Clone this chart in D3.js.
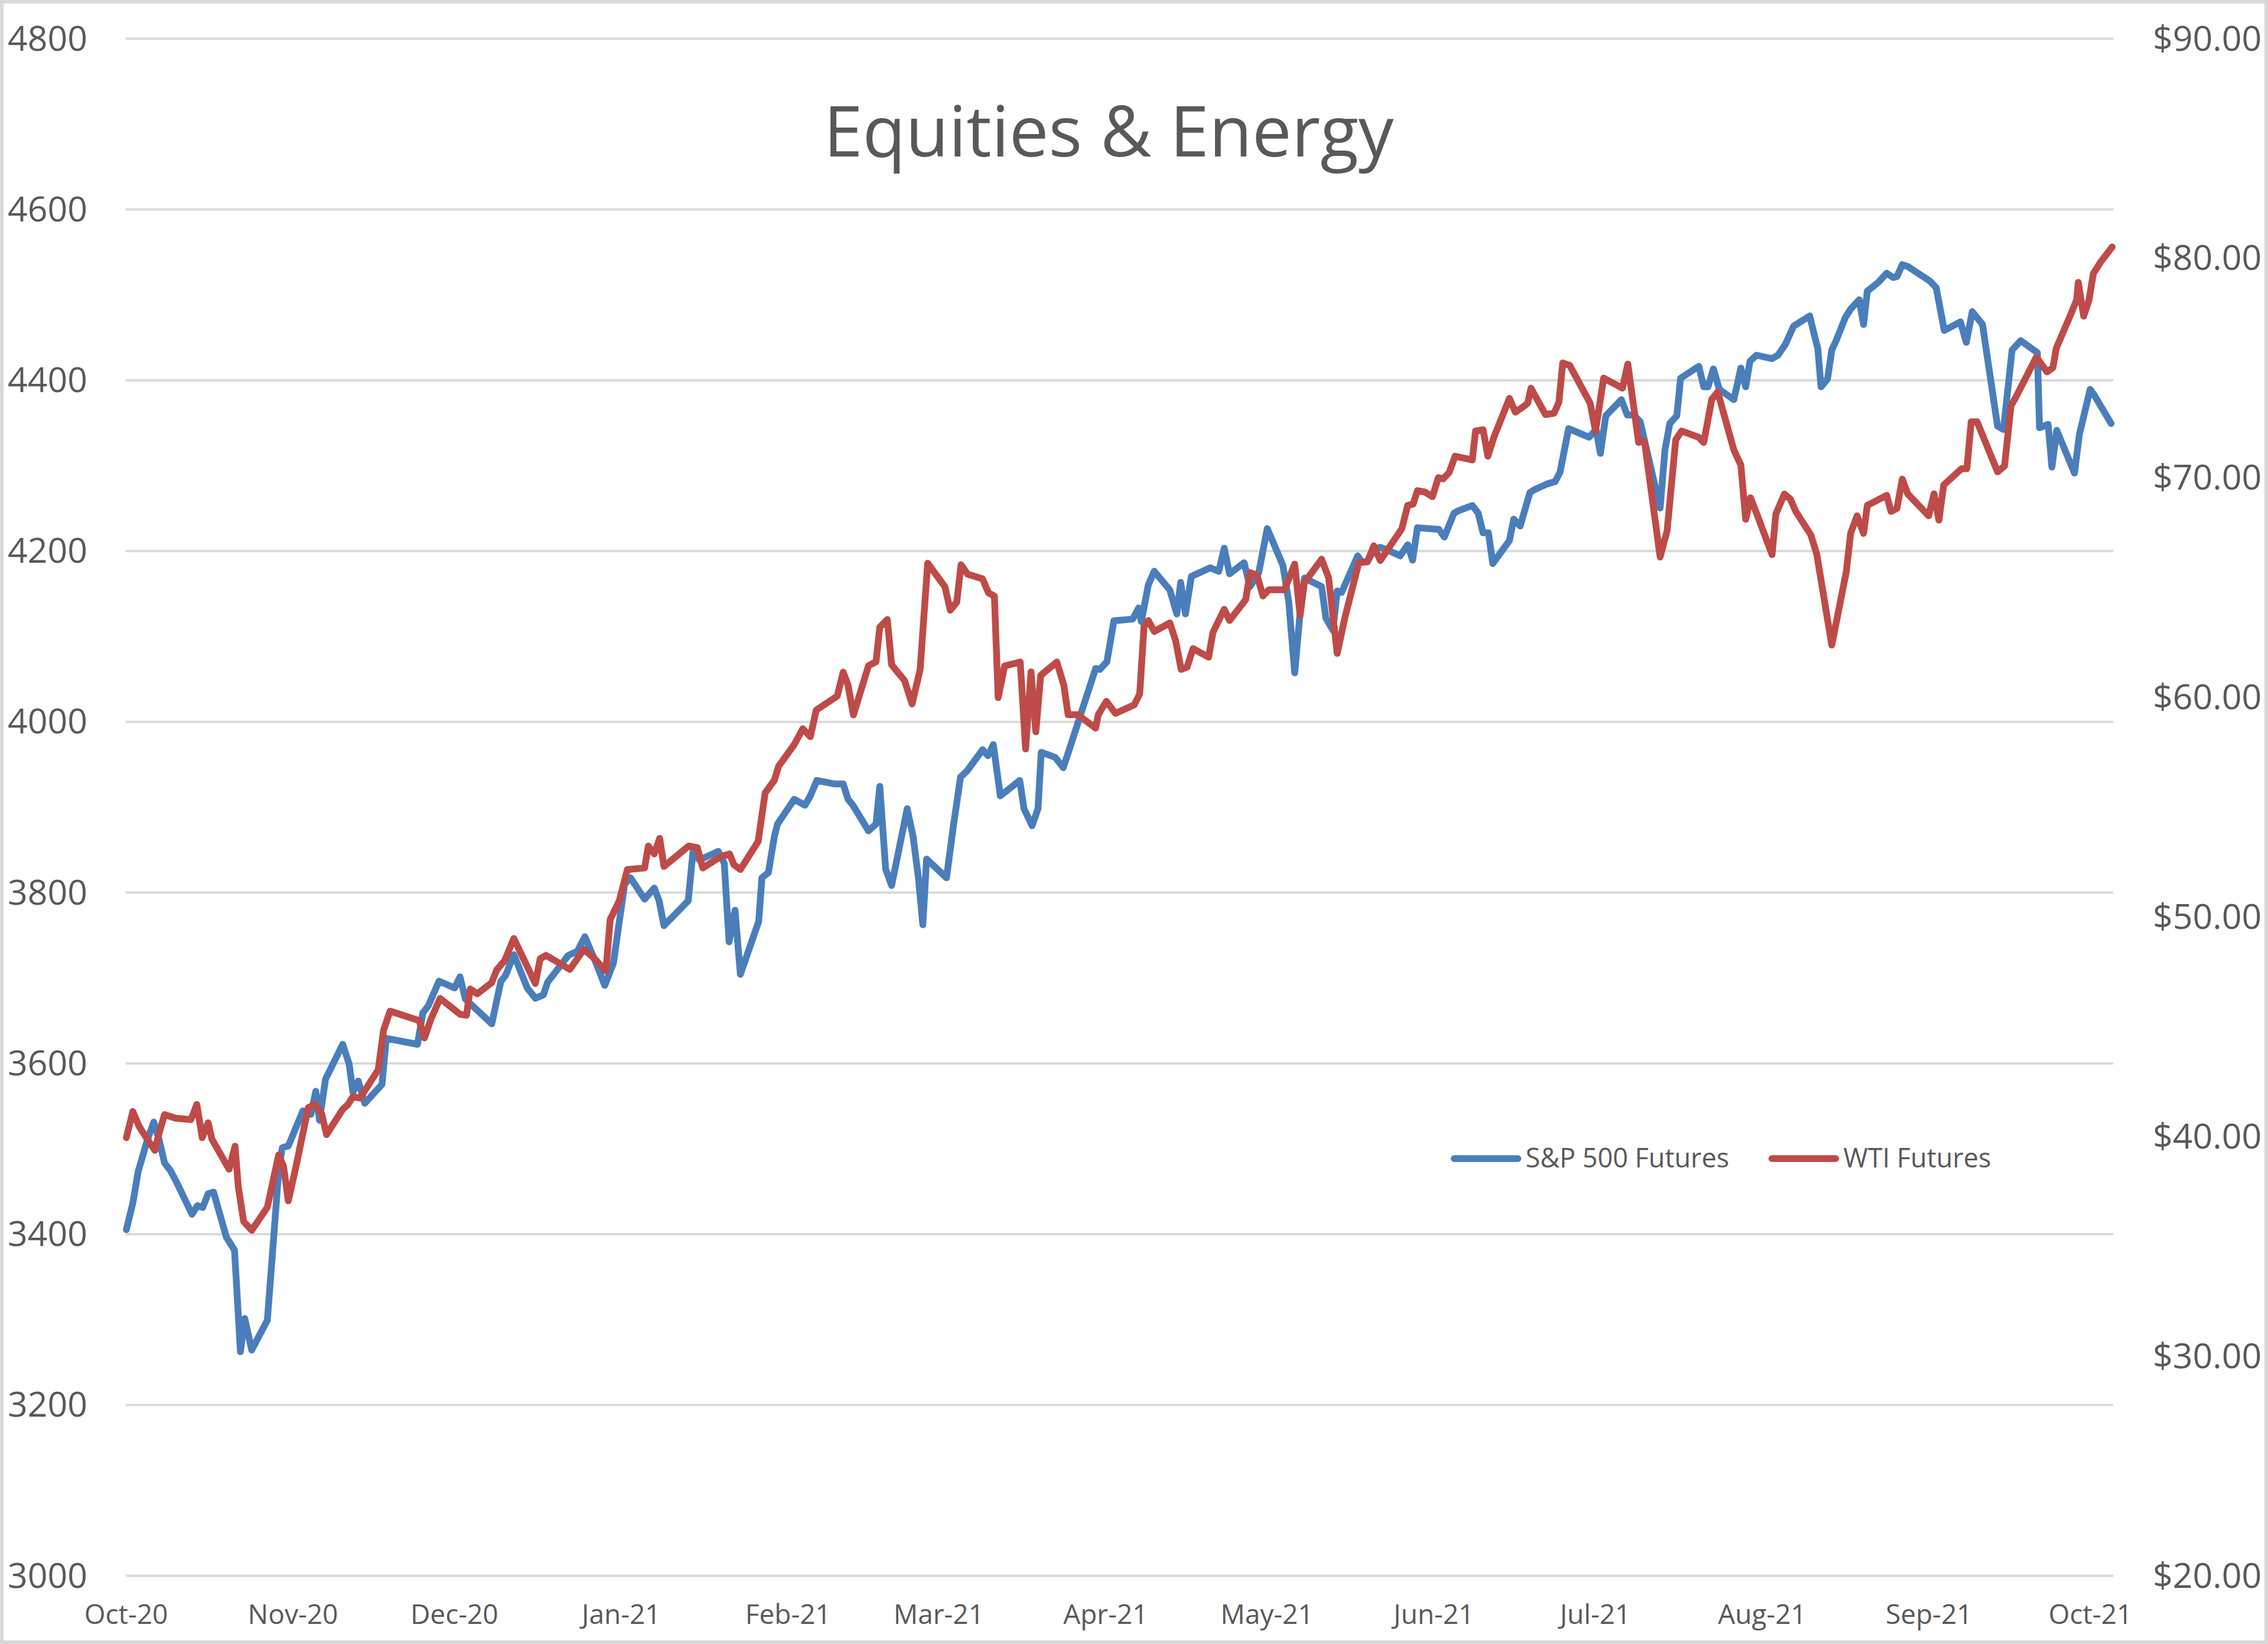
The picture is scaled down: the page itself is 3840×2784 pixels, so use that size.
<!DOCTYPE html>
<html>
<head>
<meta charset="utf-8">
<script src="https://cdn.jsdelivr.net/npm/d3@7"></script>
<style>
  html, body { margin: 0; padding: 0; background: #fff; }
  svg { display: block; }
  text { font-family: "Open Sans", sans-serif; fill: #595959; }
</style>
</head>
<body>
<svg id="chart" width="3840" height="2784"></svg>
<script>
// Equities & Energy: S&P 500 futures (left axis) vs WTI crude futures (right axis).
// x values are day offsets from 1 Oct 2020.

const TITLE = "Equities & Energy";
const START = Date.UTC(2020, 9, 1);
const END_DAY = 369.3;
const DAY = 864e5;

const spxDay = [
  0.1, 1.3, 2.3, 4.0, 5.2, 6.2, 7.2, 8.2, 9.4, 12.3,
  13.3, 14.3, 15.3, 16.3, 18.7, 20.2, 21.3, 22.1, 23.4, 26.3,
  27.3, 28.5, 29.1, 30.2, 32.9, 34.4, 35.3, 36.0, 37.1, 40.3,
  41.5, 42.2, 43.2, 44.4, 47.6, 48.4, 54.2, 55.2, 56.2, 58.2,
  61.1, 62.1, 63.1, 68.0, 69.7, 70.6, 72.1, 74.6, 76.1, 77.6,
  78.4, 82.2, 83.9, 85.3, 87.4, 89.0, 90.6, 92.7, 93.8, 96.4,
  98.2, 99.1, 100.0, 104.5, 105.4, 106.6, 110.1, 111.2, 112.1, 113.2,
  114.2, 117.6, 118.2, 119.4, 120.5, 121.1, 124.2, 126.2, 127.2, 128.4,
  131.6, 133.3, 134.2, 135.1, 138.0, 139.4, 140.1, 141.2, 142.3, 145.2,
  146.3, 147.3, 148.1, 148.8, 152.5, 153.7, 155.1, 156.3, 159.2, 160.2,
  161.2, 162.5, 166.1, 166.9, 168.4, 169.5, 170.1, 172.7, 174.2, 175.4,
  180.2, 181.0, 182.3, 183.6, 187.1, 188.2, 188.7, 190.0, 191.1, 194.0,
  195.3, 196.0, 196.9, 198.0, 201.5, 203.1, 204.1, 205.1, 207.8, 208.9,
  210.5, 212.1, 215.0, 216.1, 217.2, 218.2, 219.0, 222.2, 223.0, 224.3,
  225.1, 225.9, 228.9, 229.7, 230.7, 232.0, 233.1, 234.4, 236.8, 238.2,
  239.1, 240.0, 244.0, 245.0, 246.8, 247.7, 250.2, 251.3, 252.2, 253.2,
  254.0, 257.1, 257.9, 259.1, 260.9, 261.6, 264.0, 265.6, 266.5, 268.1,
  271.9, 273.2, 274.0, 275.0, 277.9, 279.0, 280.2, 281.4, 285.1, 286.0,
  286.9, 288.2, 288.9, 292.3, 293.2, 294.0, 295.0, 296.1, 298.8, 300.1,
  301.0, 301.8, 303.0, 305.9, 307.0, 308.4, 309.9, 312.9, 313.7, 314.4,
  315.0, 316.2, 317.0, 317.8, 319.5, 320.5, 322.1, 322.9, 323.6, 325.6,
  327.2, 328.4, 329.1, 330.1, 331.1, 335.2, 336.4, 337.9, 340.9, 342.0,
  343.1, 345.0, 347.8, 348.9, 350.5, 352.1, 355.2, 355.6, 357.2, 357.9,
  358.8, 362.1, 363.0, 365.0, 365.8, 368.9
];
const spxValue = [
  3405, 3436, 3473, 3510, 3531, 3510, 3483, 3475, 3461, 3423,
  3433, 3431, 3447, 3449, 3396, 3381, 3262, 3301, 3264, 3299,
  3381, 3481, 3501, 3503, 3544, 3540, 3567, 3533, 3581, 3622,
  3599, 3566, 3579, 3553, 3575, 3629, 3622, 3659, 3667, 3696,
  3688, 3701, 3675, 3646, 3696, 3703, 3727, 3688, 3676, 3680,
  3695, 3726, 3731, 3748, 3717, 3691, 3717, 3810, 3817, 3792,
  3805, 3790, 3761, 3790, 3848, 3838, 3848, 3834, 3742, 3779,
  3704, 3766, 3817, 3823, 3865, 3880, 3909, 3902, 3913, 3931,
  3927, 3927, 3909, 3902, 3872, 3880, 3924, 3827, 3808, 3898,
  3865, 3816, 3762, 3839, 3817, 3874, 3935, 3942, 3967, 3960,
  3973, 3913, 3931, 3898, 3878, 3898, 3964, 3958, 3946, 3969,
  4062, 4061, 4070, 4118, 4120, 4133, 4117, 4160, 4176, 4154,
  4126, 4163, 4126, 4170, 4180, 4176, 4203, 4173, 4186, 4158,
  4174, 4226, 4183, 4140, 4057, 4127, 4168, 4158, 4121, 4107,
  4153, 4151, 4194, 4187, 4187, 4202, 4204, 4201, 4194, 4207,
  4189, 4227, 4225, 4216, 4244, 4247, 4253, 4244, 4221, 4221,
  4185, 4212, 4237, 4229, 4268, 4271, 4278, 4281, 4292, 4343,
  4333, 4342, 4314, 4358, 4377, 4359, 4359, 4351, 4250, 4318,
  4349, 4358, 4402, 4416, 4392, 4392, 4413, 4389, 4377, 4414,
  4392, 4422, 4429, 4425, 4429, 4442, 4463, 4475, 4454, 4437,
  4392, 4401, 4435, 4446, 4473, 4483, 4494, 4465, 4504, 4514,
  4525, 4520, 4521, 4535, 4533, 4516, 4508, 4458, 4468, 4444,
  4480, 4465, 4346, 4342, 4435, 4446, 4432, 4344, 4348, 4298,
  4341, 4291, 4336, 4389, 4382, 4349
];

const wtiDay = [
  0.1, 1.3, 2.5, 4.0, 5.4, 6.2, 7.2, 9.2, 12.1, 13.2,
  14.2, 15.3, 16.0, 19.2, 20.3, 20.9, 21.9, 23.4, 26.3, 28.4,
  29.3, 30.2, 31.7, 33.9, 35.1, 36.4, 37.3, 40.3, 41.3, 42.2,
  43.5, 46.9, 47.9, 49.1, 54.5, 55.5, 56.7, 58.4, 62.1, 63.3,
  64.0, 65.3, 68.0, 68.9, 70.4, 72.1, 76.1, 77.0, 78.1, 82.5,
  83.9, 85.1, 87.1, 89.2, 90.0, 91.7, 93.2, 96.4, 97.1, 98.2,
  99.2, 100.0, 104.6, 106.2, 107.2, 110.4, 112.2, 113.0, 114.2, 117.5,
  118.8, 120.5, 121.3, 124.2, 125.8, 127.2, 128.3, 132.2, 133.3, 134.2,
  135.2, 138.0, 139.4, 140.1, 141.5, 142.3, 144.7, 146.1, 147.6, 149.0,
  152.2, 153.2, 154.4, 155.2, 156.4, 159.2, 160.3, 161.4, 162.1, 163.3,
  166.2, 167.2, 168.2, 169.1, 170.0, 173.0, 174.3, 175.1, 176.9, 180.2,
  180.7, 182.2, 183.9, 187.4, 188.4, 189.2, 190.0, 191.1, 194.0, 195.1,
  196.1, 197.2, 198.3, 201.2, 202.0, 204.1, 205.1, 208.1, 208.9, 210.2,
  211.3, 212.4, 215.3, 217.2, 218.2, 219.0, 222.2, 223.5, 225.1, 226.5,
  229.1, 230.7, 231.9, 233.1, 237.1, 238.2, 239.2, 240.0, 241.4, 242.8,
  243.9, 244.8, 245.9, 247.0, 250.2, 250.8, 252.2, 253.1, 254.2, 257.1,
  258.2, 259.6, 260.5, 261.1, 263.8, 265.4, 266.3, 267.0, 268.3, 272.1,
  273.1, 274.6, 278.1, 279.1, 280.2, 281.1, 282.2, 285.1, 286.4, 288.0,
  289.1, 292.3, 293.2, 294.7, 295.8, 298.8, 300.1, 301.0, 301.9, 303.0,
  305.9, 306.6, 308.2, 309.3, 310.3, 313.1, 314.2, 317.0, 319.7, 320.5,
  321.7, 322.9, 323.6, 327.2, 328.0, 329.1, 330.1, 331.1, 335.0, 336.0,
  336.9, 337.8, 341.1, 342.1, 342.9, 344.0, 347.8, 349.1, 350.3, 351.1,
  355.0, 357.0, 358.1, 358.7, 361.5, 362.5, 362.8, 363.8, 364.8, 365.6,
  367.0, 369.1
];
const wtiValue = [
  39.94, 41.13, 40.44, 39.87, 39.36, 40.15, 40.99, 40.83, 40.76, 41.45,
  39.94, 40.62, 39.87, 38.50, 39.55, 37.71, 36.12, 35.72, 36.77, 39.15,
  38.64, 37.06, 38.71, 41.31, 41.45, 41.02, 40.08, 41.23, 41.45, 41.81,
  41.74, 43.03, 44.84, 45.70, 45.27, 44.48, 45.34, 46.28, 45.56, 45.51,
  46.71, 46.49, 47.00, 47.57, 48.00, 49.01, 46.96, 48.09, 48.24, 47.60,
  48.09, 48.52, 48.09, 47.53, 49.87, 50.73, 52.15, 52.22, 53.22, 52.86,
  53.57, 52.29, 53.22, 53.15, 52.22, 52.72, 52.86, 52.37, 52.15, 53.43,
  55.64, 56.21, 56.85, 57.84, 58.56, 58.20, 59.41, 60.05, 61.14, 60.55,
  59.19, 61.43, 61.61, 63.18, 63.54, 61.47, 60.76, 59.69, 61.26, 66.10,
  65.03, 63.96, 64.32, 66.03, 65.60, 65.39, 64.75, 64.60, 59.98, 61.42,
  61.60, 57.64, 61.15, 58.42, 60.99, 61.60, 60.54, 59.20, 59.20, 58.59,
  59.20, 59.81, 59.26, 59.65, 60.15, 63.21, 63.49, 62.99, 63.38, 62.55,
  61.26, 61.37, 62.21, 61.82, 62.94, 64.00, 63.49, 64.44, 65.67, 65.55,
  64.61, 64.89, 64.89, 66.06, 63.72, 65.22, 66.28, 65.44, 61.99, 63.60,
  66.11, 66.17, 66.89, 66.22, 67.67, 68.73, 68.79, 69.40, 69.34, 69.13,
  70.00, 69.94, 70.23, 70.97, 70.80, 72.12, 72.18, 70.97, 71.83, 73.61,
  72.98, 73.21, 73.39, 74.07, 72.87, 72.93, 73.44, 75.22, 75.11, 73.39,
  72.12, 74.53, 74.07, 75.17, 73.21, 71.60, 71.66, 66.38, 67.58, 71.72,
  72.12, 71.83, 71.60, 73.56, 73.90, 71.26, 70.57, 68.10, 69.08, 68.39,
  66.49, 68.33, 69.25, 69.02, 68.46, 67.39, 66.52, 62.37, 65.72, 67.46,
  68.26, 67.46, 68.73, 69.19, 68.46, 68.59, 69.93, 69.26, 68.26, 69.26,
  68.06, 69.66, 70.40, 70.40, 72.54, 72.54, 70.26, 70.53, 73.27, 73.61,
  75.48, 74.81, 75.01, 75.88, 77.49, 78.09, 78.89, 77.35, 78.09, 79.29,
  79.83, 80.50
];

const leftTicks = [3000, 3200, 3400, 3600, 3800, 4000, 4200, 4400, 4600, 4800];
const rightTicks = [20, 30, 40, 50, 60, 70, 80, 90];
const seriesNames = ["S&P 500 Futures", "WTI Futures"];
const seriesColors = ["#4A7EBB", "#BE4B48"];

const W = 3840, H = 2784;
const plot = { left: 213, right: 3578, top: 65, bottom: 2668 };
const LINE_W = 11.5;

const svg = d3.select("#chart");

// chart frame
svg.append("rect")
  .attr("x", 3).attr("y", 3).attr("width", W - 6).attr("height", H - 6)
  .attr("fill", "#fff").attr("stroke", "#D9D9D9").attr("stroke-width", 6);

const dayToDate = (d) => new Date(START + d * DAY);
const x = d3.scaleUtc()
  .domain([dayToDate(0), dayToDate(END_DAY)])
  .range([plot.left, plot.right]);
const yL = d3.scaleLinear().domain([3000, 4800]).range([plot.bottom, plot.top]);
const yR = d3.scaleLinear().domain([20, 90]).range([plot.bottom, plot.top]);

// left axis with gridlines
const gL = svg.append("g")
  .attr("transform", `translate(${plot.left},0)`)
  .call(d3.axisLeft(yL).tickValues(leftTicks)
    .tickSize(-(plot.right - plot.left)).tickPadding(65).tickFormat(d3.format("d")));
gL.select(".domain").remove();
gL.selectAll(".tick line").attr("stroke", "#D9D9D9").attr("stroke-width", 4);
gL.selectAll(".tick text").style("font-size", "59px").attr("dy", "0.34em");

// right axis (labels only)
const gR = svg.append("g")
  .attr("transform", `translate(${plot.right},0)`)
  .call(d3.axisRight(yR).tickValues(rightTicks).tickSize(0).tickPadding(67)
    .tickFormat(d3.format("$.2f")));
gR.select(".domain").remove();
gR.selectAll(".tick text").style("font-size", "59px").attr("dy", "0.34em");

// bottom axis: one label per month
const gB = svg.append("g")
  .attr("transform", `translate(0,${plot.bottom})`)
  .call(d3.axisBottom(x).tickValues(d3.utcMonth.range(dayToDate(0), dayToDate(END_DAY)))
    .tickSize(0).tickPadding(49).tickFormat(d3.utcFormat("%b-%y")));
gB.select(".domain").remove();
gB.selectAll(".tick text").style("font-size", "46px");

// series
const spx = spxDay.map((d, i) => ({ date: dayToDate(d), v: spxValue[i] }));
const wti = wtiDay.map((d, i) => ({ date: dayToDate(d), v: wtiValue[i] }));

const lineL = d3.line().x((d) => x(d.date)).y((d) => yL(d.v));
const lineR = d3.line().x((d) => x(d.date)).y((d) => yR(d.v));

svg.append("path").datum(spx).attr("d", lineL)
  .attr("fill", "none").attr("stroke", seriesColors[0]).attr("stroke-width", LINE_W)
  .attr("stroke-linejoin", "round").attr("stroke-linecap", "round");
svg.append("path").datum(wti).attr("d", lineR)
  .attr("fill", "none").attr("stroke", seriesColors[1]).attr("stroke-width", LINE_W)
  .attr("stroke-linejoin", "round").attr("stroke-linecap", "round");

// title
svg.append("text")
  .attr("x", 1877).attr("y", 265)
  .attr("text-anchor", "middle")
  .style("font-size", "119px")
  .text(TITLE);

// legend
const legendX = [2462, 3000];
const leg = svg.append("g").selectAll("g").data(seriesNames).join("g")
  .attr("transform", (d, i) => `translate(${legendX[i]},1962)`);
leg.append("line")
  .attr("x1", 0).attr("x2", 108).attr("y1", 0).attr("y2", 0)
  .attr("stroke", (d, i) => seriesColors[i]).attr("stroke-width", LINE_W)
  .attr("stroke-linecap", "round");
leg.append("text")
  .attr("x", 121).attr("y", 15)
  .style("font-size", "45px")
  .text((d) => d);
</script>
</body>
</html>
